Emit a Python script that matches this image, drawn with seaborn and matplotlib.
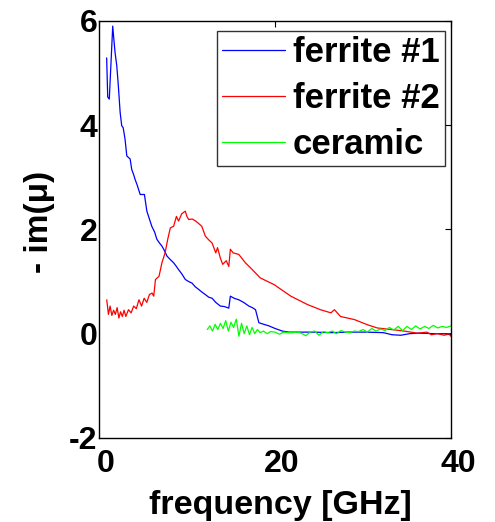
import numpy as np
import pandas as pd
import matplotlib
matplotlib.use("Agg")
import matplotlib.pyplot as plt
import matplotlib.transforms as mtrans
import seaborn as sns

# ferrite #1 (blue)
freq_f1 = [0.87, 0.99, 1.17, 1.56, 1.66, 1.82, 2.02, 2.2, 2.4, 2.58, 2.75, 2.96, 3.16, 3.35, 3.54,
           3.72, 3.94, 4.1, 4.34, 4.68, 4.93, 5.16, 5.44, 5.73, 6.0, 6.32, 6.58, 6.87, 7.15, 7.42,
           7.72, 8.11, 8.48, 8.75, 9.04, 9.4, 9.81, 10.19, 10.57, 10.94, 11.32, 11.68, 12.09, 12.47,
           12.85, 13.27, 13.79, 14.26, 14.75, 14.93, 15.35, 15.89, 16.44, 17.03, 17.43, 17.79, 18.17,
           18.72, 19.31, 20.01, 20.84, 21.6, 22.34, 24.38, 26.36, 28.35, 30.33, 32.31, 33.3, 34.3,
           35.29, 36.28, 38.27, 40.0]
im_f1 = [5.29, 4.54, 4.5, 5.9, 5.7, 5.4, 5.14, 4.75, 4.25, 3.99, 3.95, 3.73, 3.41, 3.38, 3.35,
         3.15, 3.05, 2.96, 2.85, 2.67, 2.67, 2.67, 2.35, 2.2, 2.06, 1.95, 1.81, 1.74, 1.68, 1.6,
         1.49, 1.42, 1.36, 1.3, 1.23, 1.15, 1.04, 1.0, 0.97, 0.9, 0.85, 0.8, 0.75, 0.7,
         0.68, 0.6, 0.53, 0.52, 0.49, 0.72, 0.68, 0.65, 0.6, 0.53, 0.5, 0.46, 0.21,
         0.18, 0.15, 0.1, 0.05, 0.03, 0.03, 0.03, 0.02, 0.03, 0.03, 0.02, -0.02, -0.03,
         0.0, 0.01, 0.0, 0.0]

# ferrite #2 (red)
freq_f2 = [0.88, 1.07, 1.26, 1.46, 1.66, 1.86, 2.06, 2.26, 2.45, 2.65, 2.85, 3.05, 3.35, 3.65,
           3.94, 4.24, 4.54, 4.84, 5.13, 5.43, 5.73, 6.03, 6.22, 6.42, 6.82, 7.15, 7.51, 7.81,
           8.11, 8.48, 8.8, 9.04, 9.4, 9.81, 9.99, 10.19, 10.59, 10.99, 11.28, 11.68, 12.09, 12.47,
           12.85, 13.27, 13.47, 13.79, 14.06, 14.46, 14.75, 14.93, 15.25, 15.89, 16.64, 17.24,
           18.33, 19.91, 21.8, 23.68, 25.17, 26.36, 26.76, 27.45, 29.04, 30.53, 31.62, 33.21,
           34.7, 36.18, 37.27, 37.77, 38.46, 39.26, 39.75, 40.0]
im_f2 = [0.65, 0.37, 0.53, 0.35, 0.45, 0.37, 0.5, 0.3, 0.42, 0.33, 0.45, 0.33, 0.46, 0.4, 0.53,
         0.48, 0.65, 0.53, 0.68, 0.6, 0.75, 0.78, 0.72, 1.04, 1.1, 1.36, 1.55, 1.81, 2.03, 2.06,
         2.25, 2.16, 2.3, 2.35, 2.25, 2.19, 2.2, 2.16, 2.12, 2.06, 1.87, 1.8, 1.74, 1.55, 1.65,
         1.45, 1.33, 1.4, 1.29, 1.62, 1.55, 1.52, 1.36, 1.26, 1.07, 0.94, 0.72, 0.56, 0.46, 0.40,
         0.46, 0.33, 0.27, 0.17, 0.11, 0.08, 0.05, 0.01, 0.03, -0.02, 0.0, -0.03, 0.0, -0.05]

# ceramic (green)
freq_cer = [12.3, 12.6, 12.9, 13.2, 13.5, 13.8, 14.1, 14.4, 14.7, 15.0, 15.3, 15.6, 15.9, 16.2,
            16.5, 16.8, 17.1, 17.4, 17.7, 18.0, 18.3, 18.7, 19.1, 19.5,
            20.0, 20.5, 21.0, 21.5, 22.0, 22.5, 23.0, 23.5, 24.0, 24.5, 25.0, 25.5, 26.0, 26.5,
            27.0, 27.5, 28.0, 28.5, 29.0, 29.5, 30.0, 30.5, 31.0, 31.5, 32.0, 32.5, 33.0, 33.5,
            34.0, 34.5, 35.0, 35.5, 36.0, 36.5, 37.0, 37.5, 38.0, 38.5, 39.0, 39.5, 40.0]
im_cer = [0.08, 0.15, 0.05, 0.18, 0.08, 0.2, 0.1, 0.25, 0.05, 0.22, 0.12, 0.28, -0.05, 0.2, 0.0,
          0.15, -0.02, 0.12, 0.0, 0.08, 0.02, 0.05, 0.0, 0.04,
          0.03, -0.01, 0.03, 0.02, 0.02, 0.03, 0.01, -0.04, 0.03, 0.05, -0.03, 0.04, 0.02,
          0.05, 0.0, 0.06, 0.03, 0.02, 0.05, 0.04, 0.08, 0.03, 0.1, 0.05, 0.09, 0.06, 0.12, 0.07,
          0.14, 0.06, 0.14, 0.08, 0.15, 0.09, 0.14, 0.1, 0.16, 0.11, 0.14, 0.12, 0.15]

series = [("ferrite #1", freq_f1, im_f1, "#0000ff"),
          ("ferrite #2", freq_f2, im_f2, "#ff0000"),
          ("ceramic", freq_cer, im_cer, "#00ff00")]

sns.set_style("white")
plt.rcParams['font.family'] = ['Liberation Sans', 'DejaVu Sans']
plt.rcParams['font.weight'] = 'bold'
plt.rcParams['text.color'] = 'black'
plt.rcParams['axes.labelcolor'] = 'black'
plt.rcParams['xtick.color'] = 'black'
plt.rcParams['ytick.color'] = 'black'
plt.rcParams['axes.unicode_minus'] = False

fig = plt.figure(figsize=(4.95, 5.22), dpi=100)
ax = fig.add_axes([0.2, 0.161, 0.711, 0.799])

for name, fx, fy, col in series:
    df = pd.DataFrame({"freq": fx, "im": fy})
    sns.lineplot(data=df, x="freq", y="im", ax=ax, color=col, lw=0.9,
                 sort=False, estimator=None, label=name)

ax.set_xlim(0, 40)
ax.set_ylim(-2, 6)
ax.set_xticks([0, 20, 40])
ax.set_yticks([-2, 0, 2, 4, 6])
ax.tick_params(direction='in', length=4, width=0.8, top=True, right=True, labelsize=23)
ax.tick_params(axis='x', pad=8)
ax.tick_params(axis='y', pad=1)
# matlab-ish: x tick labels sit a bit right of their ticks
shift = mtrans.ScaledTranslation(7 / 100, 0, fig.dpi_scale_trans)
for lab in ax.get_xticklabels():
    lab.set_fontweight('bold')
    lab.set_transform(lab.get_transform() + shift)
for lab in ax.get_yticklabels():
    lab.set_fontweight('bold')
for s in ax.spines.values():
    s.set_visible(True)
    s.set_color('black')
    s.set_linewidth(1.0)

ax.set_xlabel("frequency [GHz]", fontsize=24.5, fontweight='bold', labelpad=8)
ax.set_ylabel("- im(\u03bc)", fontsize=24, fontweight='bold', labelpad=10)
ax.xaxis.label.set_x(0.5 + 5 / 352)
ax.yaxis.label.set_y(0.5 + 7 / 417)

leg = ax.legend(loc='upper right', bbox_to_anchor=(0.983, 0.976), borderaxespad=0,
                prop={'size': 25, 'weight': 'bold'}, handlelength=1.81, handletextpad=0.23,
                labelspacing=0.37, borderpad=0.15, fancybox=False, frameon=True)
leg.get_frame().set_edgecolor('black')
leg.get_frame().set_linewidth(1.0)

fig.savefig("out.png", dpi=100)
